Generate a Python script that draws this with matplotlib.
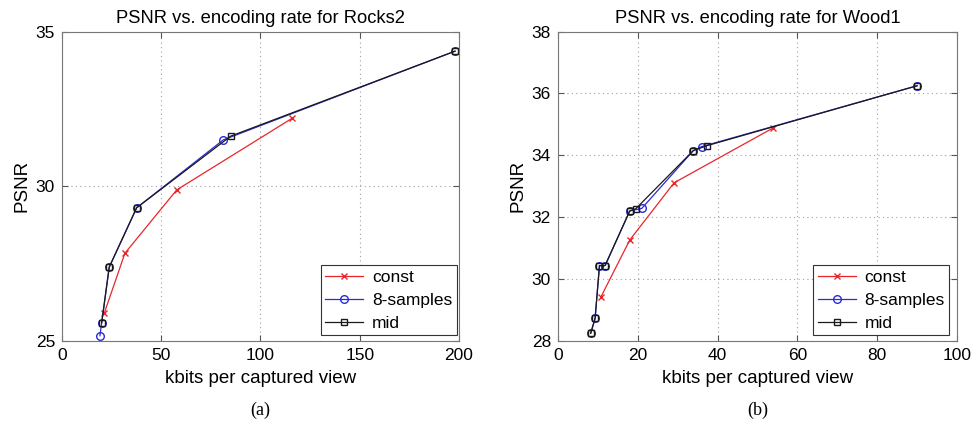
import matplotlib
matplotlib.use("Agg")
from matplotlib import pyplot as plt

plt.rcParams['font.family'] = ['Liberation Sans', 'DejaVu Sans']

# Rocks2 (a)
a_const_x = [21.3, 31.7, 57.8, 116.0]
a_const_y = [25.89, 27.83, 29.88, 32.2]
a_samp_x = [19.1, 20.0, 23.8, 37.6, 81.3, 198.0]
a_samp_y = [25.16, 25.58, 27.38, 29.30, 31.5, 34.37]
a_mid_x = [20.0, 23.8, 37.6, 85.0, 198.0]
a_mid_y = [25.58, 27.38, 29.30, 31.62, 34.37]

# Wood1 (b)
b_const_x = [10.7, 18.0, 29.1, 54.0]
b_const_y = [29.4, 31.26, 33.11, 34.89]
b_samp_x = [8.2, 9.3, 10.4, 11.8, 18.0, 21.0, 33.9, 36.0, 90.0]
b_samp_y = [28.24, 28.72, 30.43, 30.43, 32.2, 32.28, 34.15, 34.28, 36.25]
b_mid_x = [8.2, 9.3, 10.4, 11.8, 18.0, 19.5, 33.9, 37.3, 90.0]
b_mid_y = [28.24, 28.72, 30.43, 30.43, 32.2, 32.27, 34.15, 34.31, 36.25]

a_xticks = [0, 50, 100, 150, 200]
a_yticks = [25, 30, 35]
b_xticks = [0, 20, 40, 60, 80, 100]
b_yticks = [28, 30, 32, 34, 36, 38]

panels = [
    ("PSNR vs. encoding rate for Rocks2", "(a)",
     (a_const_x, a_const_y), (a_samp_x, a_samp_y), (a_mid_x, a_mid_y),
     a_xticks, a_yticks, [0.0635, 0.2077, 0.4068, 0.7186], (0.994, 0.018)),
    ("PSNR vs. encoding rate for Wood1", "(b)",
     (b_const_x, b_const_y), (b_samp_x, b_samp_y), (b_mid_x, b_mid_y),
     b_xticks, b_yticks, [0.5717, 0.2077, 0.4088, 0.7186], (0.98, 0.018)),
]

fig = plt.figure(figsize=(9.76, 4.30), dpi=100)
for title, tag, const, samp, mid, xt, yt, rect, anchor in panels:
    ax = fig.add_axes(rect)
    ax.plot(const[0], const[1], color="#e8262a", marker="x", markersize=4,
            linewidth=0.9, label="const")
    ax.plot(samp[0], samp[1], color="#2a2ad8", marker="o", markersize=5.5,
            markerfacecolor="none", linewidth=0.9, label="8-samples")
    ax.plot(mid[0], mid[1], color="#1a1a1a", marker="s", markersize=4.5,
            markerfacecolor="none", linewidth=0.9, label="mid")
    ax.set_xlim(xt[0], xt[-1])
    ax.set_ylim(yt[0], yt[-1])
    ax.set_xticks(xt)
    ax.set_yticks(yt)
    ax.grid(True, linestyle=(0, (1, 3)), color="#a0a0a0", linewidth=0.8)
    ax.tick_params(direction="in", top=True, right=True, labelsize=12.5,
                   color="#555555", length=4, pad=5)
    for s in ax.spines.values():
        s.set_color("#777777")
    ax.set_title(title, fontsize=13.2, pad=6)
    ax.set_xlabel("kbits per captured view", fontsize=13.5, labelpad=5)
    ax.set_ylabel("PSNR", fontsize=13.5, labelpad=4)
    leg = ax.legend(loc="lower right", bbox_to_anchor=anchor, borderaxespad=0,
                    fontsize=12.5, fancybox=False, framealpha=1,
                    edgecolor="#333333", handlelength=2.2, handletextpad=0.5,
                    labelspacing=0.45, borderpad=0.25)
    leg.get_frame().set_linewidth(0.8)
    ax.text(0.5, -0.224, tag, transform=ax.transAxes, ha="center", va="center",
            fontsize=13, family="Liberation Serif")

fig.savefig("out.png", dpi=100)
